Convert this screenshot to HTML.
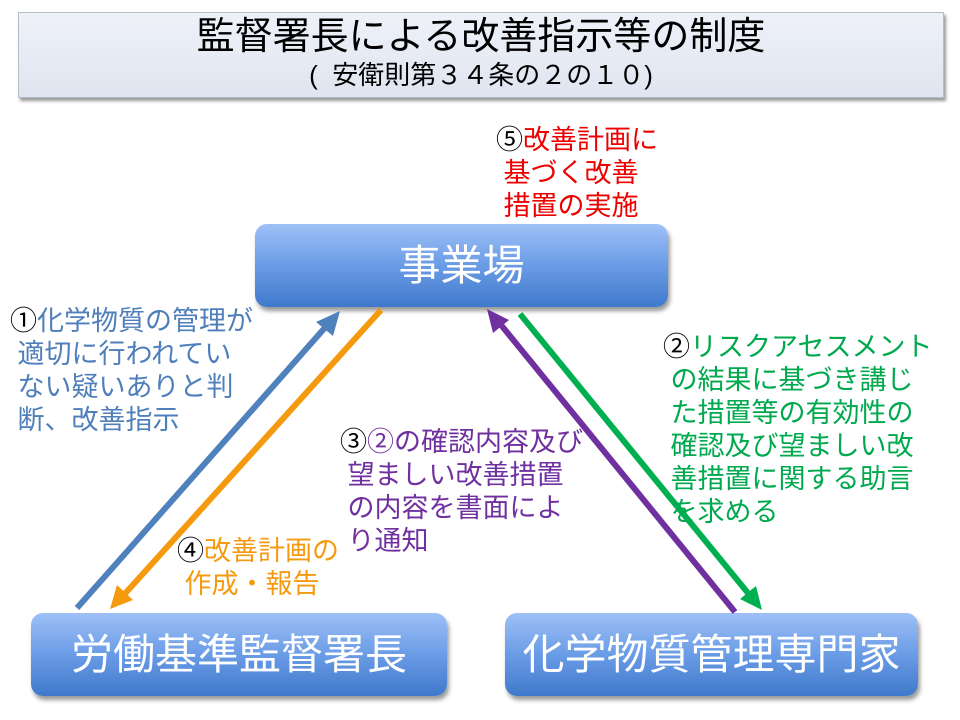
<!DOCTYPE html>
<html><head><meta charset="utf-8"><style>
body{margin:0;width:960px;height:720px;background:#fff;position:relative;overflow:hidden;font-family:"Liberation Sans","Noto Sans CJK JP",sans-serif}
.t{position:absolute;left:18px;top:12px;width:924px;height:84px;background:linear-gradient(#eef1f8,#dfe5f0);border:1px solid #b8bcc4;box-shadow:2px 3px 3px #999;text-align:center}
.box{position:absolute;height:83px;border-radius:12px;background:linear-gradient(#9ec0f6,#6a9ce6 50%,#4079cc);box-shadow:2px 4px 4px #999;color:#fff;font-size:42px;text-align:center;line-height:83px}
.l{position:absolute;font-size:27px;line-height:33px;white-space:pre}
.k{color:#000}
</style></head><body>
<div class="t"><div style="font-size:38px;line-height:44px;margin-top:2px">監督署長による改善指示等の制度</div><div style="font-size:26px;line-height:32px">(&nbsp;&nbsp;安衛則第３４条の２の１０)</div></div>
<div class="box" style="left:255px;top:224px;width:413px">事業場</div>
<div class="box" style="left:31px;top:613px;width:416px">労働基準監督署長</div>
<div class="box" style="left:505px;top:613px;width:413px">化学物質管理専門家</div>
<svg width="960" height="720" style="position:absolute;left:0;top:0">
<g stroke-width="6">
<line x1="77" y1="608" x2="330" y2="322" stroke="#4f81bd"/><path d="M340,311 L316,322 L333,336z" fill="#4f81bd"/>
<line x1="381" y1="310" x2="122" y2="597" stroke="#f59a0f"/><path d="M110,609 L117,585 L133,600z" fill="#f59a0f"/>
<line x1="735" y1="612" x2="497" y2="320" stroke="#7030a0"/><path d="M487,309 L493,333 L509,320z" fill="#7030a0"/>
<line x1="520" y1="314" x2="752" y2="598" stroke="#00b050"/><path d="M762,610 L740,599 L756,586z" fill="#00b050"/>
</g>
</svg>
<div class="l" style="left:496px;top:124px;color:#e00"><span class="k">⑤</span>改善計画に
 基づく改善
 措置の実施</div>
<div class="l" style="left:10px;top:305px;color:#4f7fbb"><span class="k">①</span>化学物質の管理が
 適切に行われてい
 ない疑いありと判
 断、改善指示</div>
<div class="l" style="left:340px;top:426px;color:#7030a0"><span class="k">③</span>②の確認内容及び
 望ましい改善措置
 の内容を書面によ
 り通知</div>
<div class="l" style="left:663px;top:331px;color:#00a84e"><span class="k">②</span>リスクアセスメント
 の結果に基づき講じ
 た措置等の有効性の
 確認及び望ましい改
 善措置に関する助言
 を求める</div>
<div class="l" style="left:177px;top:535px;color:#f59a0f"><span class="k">④</span>改善計画の
 作成・報告</div>
</body></html>
